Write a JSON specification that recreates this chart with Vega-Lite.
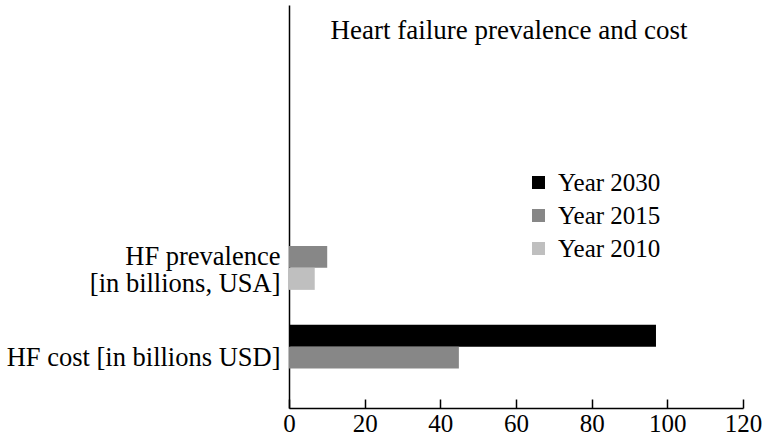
{
  "$schema": "https://vega.github.io/schema/vega-lite/v6.json",
  "width": 454,
  "height": 403,
  "autosize": {"type": "none"},
  "padding": {"left": 289, "top": 5, "right": 27, "bottom": 32},
  "background": "white",
  "title": {
    "text": "Heart failure prevalence and cost",
    "font": "Liberation Serif",
    "fontSize": 27,
    "fontWeight": "normal",
    "color": "black",
    "anchor": "middle",
    "frame": "group",
    "dx": -7,
    "baseline": "alphabetic",
    "offset": -61
  },
  "data": {
    "values": [
      {"category": "cost", "year": "Year 2030", "value": 97.0},
      {"category": "cost", "year": "Year 2015", "value": 44.9},
      {"category": "prev", "year": "Year 2015", "value": 10.1},
      {"category": "prev", "year": "Year 2010", "value": 6.8}
    ]
  },
  "mark": {"type": "bar"},
  "encoding": {
    "y": {
      "field": "category",
      "type": "nominal",
      "scale": {"domain": ["empty1", "empty2", "prev", "cost"], "paddingInner": 0.345, "paddingOuter": 0.1725},
      "axis": {
        "title": null,
        "ticks": false,
        "domainColor": "black",
        "domainWidth": 1.5,
        "labelFont": "Liberation Serif",
        "labelFontSize": 26.5,
        "labelColor": "black",
        "labelPadding": 9,
        "labelLineHeight": 27,
        "labelLimit": 400,
        "labelExpr": "datum.value == 'prev' ? ['HF prevalence', '[in billions, USA]'] : (datum.value == 'cost' ? 'HF cost [in billions USD]' : '')"
      }
    },
    "yOffset": {
      "field": "year",
      "type": "nominal",
      "scale": {"domain": ["Year 2030", "Year 2015", "Year 2010"], "paddingInner": 0, "paddingOuter": 0}
    },
    "x": {
      "field": "value",
      "type": "quantitative",
      "scale": {"domain": [0, 120], "nice": false},
      "axis": {
        "title": null,
        "values": [0, 20, 40, 60, 80, 100, 120],
        "grid": false,
        "domainColor": "black",
        "domainWidth": 1.5,
        "tickColor": "black",
        "tickWidth": 1.5,
        "tickSize": -9,
        "labelFont": "Liberation Serif",
        "labelFontSize": 25,
        "labelColor": "black",
        "labelPadding": 12,
        "labelFlush": false
      }
    },
    "color": {
      "field": "year",
      "type": "nominal",
      "scale": {"domain": ["Year 2030", "Year 2015", "Year 2010"], "range": ["#000000", "#878787", "#bfbfbf"]},
      "legend": {
        "title": null,
        "orient": "none",
        "legendX": 237,
        "legendY": 165,
        "symbolType": "square",
        "symbolSize": 169,
        "symbolStrokeWidth": 0,
        "labelFont": "Liberation Serif",
        "labelFontSize": 25,
        "labelColor": "black",
        "labelOffset": 7,
        "rowPadding": 7
      }
    }
  },
  "config": {"view": {"stroke": null}}
}
